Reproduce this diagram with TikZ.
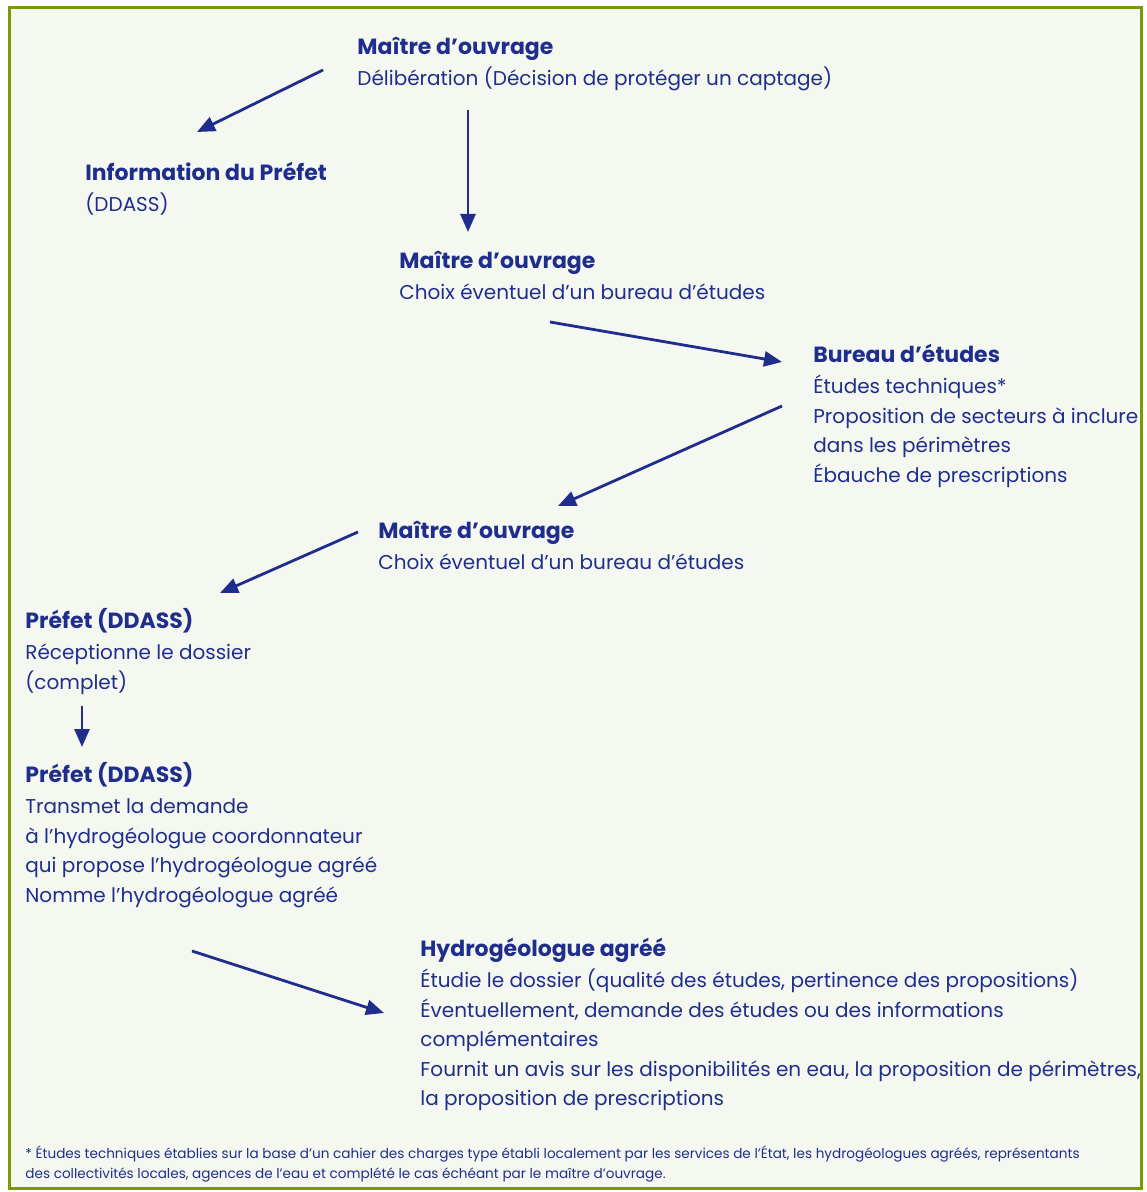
\documentclass[tikz,border=0pt]{standalone}
\usepackage{fontspec}
\setmainfont{Poppins}
\usetikzlibrary{arrows.meta, positioning}
\definecolor{DarkBlue}{HTML}{1F2E8C}
\definecolor{FrameGreen}{HTML}{7A9A01}
\definecolor{PaleBg}{HTML}{F5F8F0}
\newcommand{\steptitle}[1]{{\fontsize{11}{14.75}\selectfont\bfseries\strut #1}\\[1pt]}

\begin{document}
\begin{tikzpicture}[x=0.5pt, y=-0.5pt,
    stepbox/.style={anchor=north west, inner sep=0pt, align=left, text=DarkBlue,
        font=\fontsize{10}{14.75}\selectfont},
    flow/.style={-{Triangle[length=9pt,width=7.5pt]}, line width=1.4pt, draw=DarkBlue}]
    % Page and frame
    \useasboundingbox (0,0) rectangle (1146,1192);
    \fill[white] (0,0) rectangle (1146,1192);
    \draw[FrameGreen, line width=1.5pt, fill=PaleBg] (9,8) rectangle (1141,1188);

    % Steps of the procedure
    \node[stepbox] (mo1) at (357,33.4) {\steptitle{Maître d’ouvrage}
        Délibération (Décision de protéger un captage)};
    \node[stepbox] (info) at (85,159.4) {\steptitle{Information du Préfet}
        (DDASS)};
    \node[stepbox] (mo2) at (399,247.4) {\steptitle{Maître d’ouvrage}
        Choix éventuel d’un bureau d’études};
    \node[stepbox] (bureau) at (813,341.4) {\steptitle{Bureau d’études}
        Études techniques*\\
        Proposition de secteurs à inclure\\
        dans les périmètres\\
        Ébauche de prescriptions};
    \node[stepbox] (mo3) at (378,517.4) {\steptitle{Maître d’ouvrage}
        Choix éventuel d’un bureau d’études};
    \node[stepbox] (prefet1) at (25,607.4) {\steptitle{Préfet (DDASS)}
        Réceptionne le dossier\\
        (complet)};
    \node[stepbox] (prefet2) at (25,761.4) {\steptitle{Préfet (DDASS)}
        Transmet la demande\\
        à l’hydrogéologue coordonnateur\\
        qui propose l’hydrogéologue agréé\\
        Nomme l’hydrogéologue agréé};
    \node[stepbox] (hydro) at (420,935.4) {\steptitle{Hydrogéologue agréé}
        Étudie le dossier (qualité des études, pertinence des propositions)\\
        Éventuellement, demande des études ou des informations\\
        complémentaires\\
        Fournit un avis sur les disponibilités en eau, la proposition de périmètres,\\
        la proposition de prescriptions};

    % Footnote
    \node[stepbox, font=\fontsize{6.8}{10}\selectfont] (note) at (25,1144)
        {\strut * Études techniques établies sur la base d’un cahier des charges type établi localement par les services de l’État, les hydrogéologues agréés, représentants\\
        des collectivités locales, agences de l’eau et complété le cas échéant par le maître d’ouvrage.};

    % Arrow ends
    \coordinate (a1s) at (323,70);   \coordinate (a1e) at (197,132);
    \coordinate (a2s) at (468,110);  \coordinate (a2e) at (468,232);
    \coordinate (a3s) at (550,322);  \coordinate (a3e) at (782,362);
    \coordinate (a4s) at (782,406);  \coordinate (a4e) at (558,506);
    \coordinate (a5s) at (358,532);  \coordinate (a5e) at (220,593);
    \coordinate (a6s) at (82,706);   \coordinate (a6e) at (82,747);
    \coordinate (a7s) at (192,951);  \coordinate (a7e) at (384,1013);

    % Arrows
    \draw[flow] (a1s) -- (a1e);
    \draw[flow] (a2s) -- (a2e);
    \draw[flow] (a3s) -- (a3e);
    \draw[flow] (a4s) -- (a4e);
    \draw[flow] (a5s) -- (a5e);
    \draw[flow] (a6s) -- (a6e);
    \draw[flow] (a7s) -- (a7e);
\end{tikzpicture}
\end{document}
